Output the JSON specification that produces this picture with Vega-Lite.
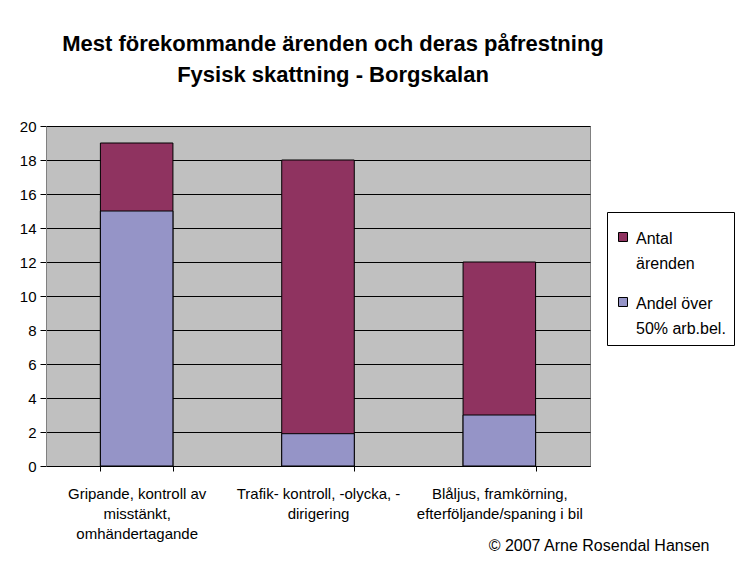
{
  "$schema": "https://vega.github.io/schema/vega-lite/v6.json",
  "autosize": "none",
  "width": 544,
  "height": 340,
  "padding": {"left": 46, "top": 126, "right": 147, "bottom": 97},
  "background": "white",
  "title": {
    "text": ["Mest förekommande ärenden och deras påfrestning", "Fysisk skattning - Borgskalan"],
    "anchor": "middle",
    "dx": 15,
    "offset": 32,
    "font": "Liberation Sans",
    "fontSize": 22,
    "fontWeight": "bold",
    "lineHeight": 31,
    "color": "black"
  },
  "data": {
    "values": [
      {"kategori": "Gripande, kontroll av misstänkt, omhändertagande", "serie": "Antal ärenden", "antal": 19},
      {"kategori": "Trafik- kontroll, -olycka, -dirigering", "serie": "Antal ärenden", "antal": 18},
      {"kategori": "Blåljus, framkörning, efterföljande/spaning i bil", "serie": "Antal ärenden", "antal": 12},
      {"kategori": "Gripande, kontroll av misstänkt, omhändertagande", "serie": "Andel över 50% arb.bel.", "antal": 15},
      {"kategori": "Trafik- kontroll, -olycka, -dirigering", "serie": "Andel över 50% arb.bel.", "antal": 1.9},
      {"kategori": "Blåljus, framkörning, efterföljande/spaning i bil", "serie": "Andel över 50% arb.bel.", "antal": 3}
    ]
  },
  "mark": {"type": "bar", "stroke": "black", "strokeWidth": 1},
  "encoding": {
    "x": {
      "field": "kategori",
      "type": "nominal",
      "sort": null,
      "scale": {"paddingInner": 0.6, "paddingOuter": 0.3},
      "axis": {
        "title": "© 2007 Arne Rosendal Hansen",
        "titleFont": "Liberation Sans",
        "titleFontSize": 16,
        "titleFontWeight": "normal",
        "titleColor": "black",
        "titleAnchor": "end",
        "titleAlign": "right",
        "titleBaseline": "middle",
        "titleX": 663,
        "titleY": 79,
        "labelAngle": 0,
        "labelFont": "Liberation Sans",
        "labelFontSize": 15,
        "labelColor": "black",
        "labelLineHeight": 20,
        "labelPadding": 15,
        "labelLimit": 0,
        "labelExpr": "datum.label == 'Gripande, kontroll av misstänkt, omhändertagande' ? ['Gripande, kontroll av', 'misstänkt,', 'omhändertagande'] : datum.label == 'Trafik- kontroll, -olycka, -dirigering' ? ['Trafik- kontroll, -olycka, -', 'dirigering'] : datum.label == 'Blåljus, framkörning, efterföljande/spaning i bil' ? ['Blåljus, framkörning,', 'efterföljande/spaning i bil'] : ''",
        "tickBand": "extent",
        "tickColor": "black",
        "tickSize": 5,
        "domainColor": "black",
        "grid": false
      }
    },
    "y": {
      "field": "antal",
      "type": "quantitative",
      "stack": null,
      "scale": {"domain": [0, 20], "nice": false},
      "axis": {
        "title": null,
        "values": [0, 2, 4, 6, 8, 10, 12, 14, 16, 18, 20],
        "labelFont": "Liberation Sans",
        "labelFontSize": 15,
        "labelColor": "black",
        "labelPadding": 4,
        "tickColor": "black",
        "tickSize": 6,
        "domainColor": "#808080",
        "grid": true,
        "gridColor": "black",
        "gridOpacity": 1
      }
    },
    "color": {
      "field": "serie",
      "type": "nominal",
      "scale": {"domain": ["Antal ärenden", "Andel över 50% arb.bel."], "range": ["#8F3360", "#9594C7"]},
      "legend": {
        "title": null,
        "orient": "none",
        "legendX": 561,
        "legendY": 86,
        "strokeColor": "black",
        "padding": 8,
        "symbolType": "square",
        "symbolSize": 81,
        "symbolStrokeColor": "black",
        "symbolStrokeWidth": 1,
        "labelFont": "Liberation Sans",
        "labelFontSize": 16,
        "labelColor": "black",
        "labelLimit": 0,
        "labelOffset": 5,
        "rowPadding": 13,
        "labelBaseline": "top",
        "labelExpr": "datum.label == 'Antal ärenden' ? ['Antal', 'ärenden'] : ['Andel över', '50% arb.bel.']",
        "encode": {
          "labels": {"update": {"lineHeight": {"value": 25}, "dy": {"value": 3}}},
          "symbols": {"update": {"y": {"value": 17}}}
        }
      }
    },
    "order": {"field": "antal", "sort": "descending"}
  },
  "config": {
    "view": {"fill": "#C0C0C0", "stroke": "#808080", "strokeWidth": 1},
    "font": "Liberation Sans"
  }
}
